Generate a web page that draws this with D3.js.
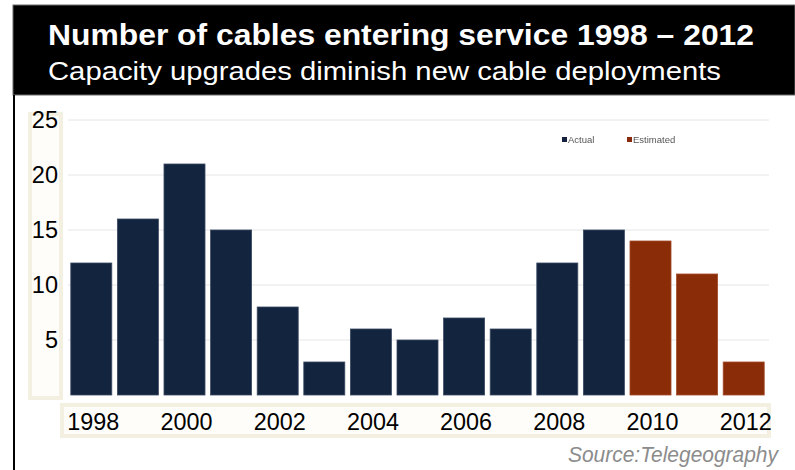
<!DOCTYPE html>
<html>
<head>
<meta charset="utf-8">
<script src="https://cdn.jsdelivr.net/npm/d3@7/dist/d3.min.js"></script>
<style>
  html, body { margin: 0; padding: 0; background: #ffffff; }
  svg { display: block; font-family: "Liberation Sans", Arial, sans-serif; }
</style>
</head>
<body>
<svg id="chart" width="795" height="470"></svg>
<script>
// Submarine cables entering service per year
const years = ["1998","1999","2000","2001","2002","2003","2004","2005","2006","2007","2008","2009","2010","2011","2012"];
const cables = [12, 16, 21, 15, 8, 3, 6, 5, 7, 6, 12, 15, 14, 11, 3];
const status = ["Actual","Actual","Actual","Actual","Actual","Actual","Actual","Actual","Actual","Actual","Actual","Actual","Estimated","Estimated","Estimated"];
const seriesNames = ["Actual", "Estimated"];
const yTicks = [5, 10, 15, 20, 25];
const xTickLabels = ["1998","2000","2002","2004","2006","2008","2010","2012"];

const titleText = "Number of cables entering service 1998 \u2013 2012";
const subtitleText = "Capacity upgrades diminish new cable deployments";
const sourceText = "Source:Telegeography";

const colors = d3.scaleOrdinal().domain(seriesNames).range(["#13243f", "#8a2c08"]);

const svg = d3.select("#chart");
const defs = svg.append("defs");
defs.append("filter").attr("id", "soft").append("feGaussianBlur").attr("stdDeviation", 0.35);

// header band
svg.append("rect").attr("x", 13).attr("y", 5).attr("width", 782).attr("height", 90)
  .attr("fill", "#000").attr("stroke", "#6a6a6a").attr("stroke-width", 1);
svg.append("text").attr("x", 48).attr("y", 45)
  .attr("fill", "#fff").attr("font-size", 30).attr("font-weight", "bold")
  .attr("textLength", 706).attr("lengthAdjust", "spacingAndGlyphs")
  .text(titleText);
svg.append("text").attr("x", 48).attr("y", 80)
  .attr("fill", "#fff").attr("font-size", 26)
  .attr("textLength", 673).attr("lengthAdjust", "spacingAndGlyphs")
  .text(subtitleText);

// left frame line
svg.append("line").attr("x1", 14).attr("x2", 14).attr("y1", 95).attr("y2", 470)
  .attr("stroke", "#000").attr("stroke-width", 2);

// label boxes
svg.append("rect").attr("x", 30).attr("y", 114).attr("width", 31).attr("height", 284)
  .attr("fill", "#fefdf9").attr("stroke", "#f3efe1").attr("stroke-width", 4);
svg.append("rect").attr("x", 62).attr("y", 405).attr("width", 707).attr("height", 31)
  .attr("fill", "#fefdf9").attr("stroke", "#f3efe1").attr("stroke-width", 4);

const x = d3.scaleBand().domain(years).range([68, 767]).paddingInner(0.12).paddingOuter(0.06);
const y = d3.scaleLinear().domain([0, 25]).range([395, 120]);

// gridlines
svg.append("g").selectAll("line").data(yTicks).join("line")
  .attr("x1", 68).attr("x2", 769)
  .attr("y1", d => y(d)).attr("y2", d => y(d))
  .attr("stroke", "#e6e6e6").attr("stroke-width", 1);

// bars
svg.append("g").selectAll("rect").data(years).join("rect")
  .attr("x", d => x(d))
  .attr("y", (d, i) => y(cables[i]))
  .attr("width", x.bandwidth())
  .attr("height", (d, i) => y(0) - y(cables[i]))
  .attr("fill", (d, i) => colors(status[i]))
  .attr("stroke", (d, i) => status[i] === "Actual" ? "#3b4a63" : "#a04a28")
  .attr("stroke-width", 0.8);

// y axis
const yAxis = svg.append("g").attr("transform", "translate(59,0)")
  .call(d3.axisLeft(y).tickValues(yTicks).tickSize(0).tickPadding(1));
yAxis.select(".domain").remove();
yAxis.selectAll("text").attr("font-size", 23.5).attr("font-family", "Liberation Sans, Arial, sans-serif")
  .attr("fill", "#000");

// x axis
const xAxis = svg.append("g").attr("transform", "translate(2,395)")
  .call(d3.axisBottom(x).tickValues(xTickLabels).tickSize(0).tickPadding(18));
xAxis.select(".domain").remove();
xAxis.selectAll("text").attr("font-size", 23.5).attr("font-family", "Liberation Sans, Arial, sans-serif")
  .attr("fill", "#000").attr("textLength", 52).attr("lengthAdjust", "spacingAndGlyphs");

// legend
const legend = svg.append("g").attr("filter", "url(#soft)");
const legendX = [562, 627];
seriesNames.forEach((name, i) => {
  legend.append("rect").attr("x", legendX[i]).attr("y", 137).attr("width", 5).attr("height", 5)
    .attr("fill", colors(name));
  legend.append("text").attr("x", legendX[i] + 6).attr("y", 143)
    .attr("font-size", 9.5).attr("fill", "#555").text(name);
});

// source note
svg.append("text").attr("x", 778).attr("y", 462).attr("text-anchor", "end")
  .attr("font-size", 22).attr("font-style", "italic").attr("fill", "#8c8c8c")
  .attr("textLength", 210).attr("lengthAdjust", "spacingAndGlyphs")
  .text(sourceText);
</script>
</body>
</html>
